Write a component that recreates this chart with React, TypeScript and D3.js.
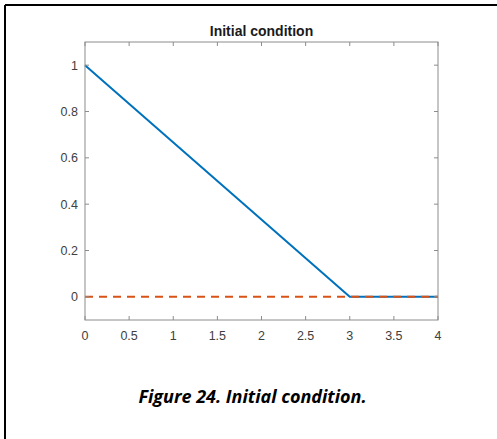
import React from "react";
import * as d3 from "d3";

const blueX = [0, 3, 4];
const blueY = [1, 0, 0];
const orangeX = [0, 4];
const orangeY = [0, 0];
const xTicks = [0, 0.5, 1, 1.5, 2, 2.5, 3, 3.5, 4];
const yTicks = [0, 0.2, 0.4, 0.6, 0.8, 1];
const title = "Initial condition";
const caption = "Figure 24. Initial condition.";

export default function App() {
  const W = 497, H = 439;
  const left = 85, right = 438, top = 42, bottom = 320;
  const x = d3.scaleLinear().domain([0, 4]).range([left, right]);
  const y = d3.scaleLinear().domain([-0.1, 1.1]).range([bottom, top]);
  const line = d3.line<[number, number]>().x(d => x(d[0])).y(d => y(d[1]));
  const blue = line(blueX.map((v, i) => [v, blueY[i]] as [number, number]));
  const orange = line(orangeX.map((v, i) => [v, orangeY[i]] as [number, number]));
  const axisColor = "#8c8c8c";
  const textColor = "#404040";
  const tl = 4;
  const fmt = (v: number) => String(v);
  return (
    <svg width={W} height={H} style={{ position: "absolute", left: 0, top: 0, background: "#fff" }}>
      <rect x={0} y={0} width={W} height={H} fill="#fff" />
      <line x1={5} y1={5} x2={497} y2={5} stroke="#000" strokeWidth={2} />
      <line x1={5} y1={5} x2={5} y2={439} stroke="#000" strokeWidth={2} />
      <text x={(left + right) / 2} y={36} textAnchor="middle" fontFamily="Liberation Sans, Arial, sans-serif" fontWeight="bold" fontSize={14} fill="#1a1a1a">{title}</text>
      <path d={blue!} fill="none" stroke="#0072BD" strokeWidth={2} />
      <path d={orange!} fill="none" stroke="#D95319" strokeWidth={2} strokeDasharray="8,6" />
      <rect x={left} y={top} width={right - left} height={bottom - top} fill="none" stroke={axisColor} strokeWidth={1} />
      {xTicks.map(t => (
        <g key={"x" + t}>
          <line x1={x(t)} x2={x(t)} y1={bottom} y2={bottom - tl} stroke={axisColor} />
          <line x1={x(t)} x2={x(t)} y1={top} y2={top + tl} stroke={axisColor} />
          <text x={x(t)} y={340} textAnchor="middle" fontFamily="Liberation Sans, Arial, sans-serif" fontSize={12.5} fill={textColor}>{fmt(t)}</text>
        </g>
      ))}
      {yTicks.map(t => (
        <g key={"y" + t}>
          <line x1={left} x2={left + tl} y1={y(t)} y2={y(t)} stroke={axisColor} />
          <line x1={right} x2={right - tl} y1={y(t)} y2={y(t)} stroke={axisColor} />
          <text x={78} y={y(t) + 4.5} textAnchor="end" fontFamily="Liberation Sans, Arial, sans-serif" fontSize={12.5} fill={textColor}>{fmt(t)}</text>
        </g>
      ))}
      <text x={252.5} y={403} textAnchor="middle" fontFamily="Open Sans, Noto Sans, sans-serif" fontWeight="bold" fontStyle="italic" fontSize={18} fill="#000">{caption}</text>
    </svg>
  );
}
